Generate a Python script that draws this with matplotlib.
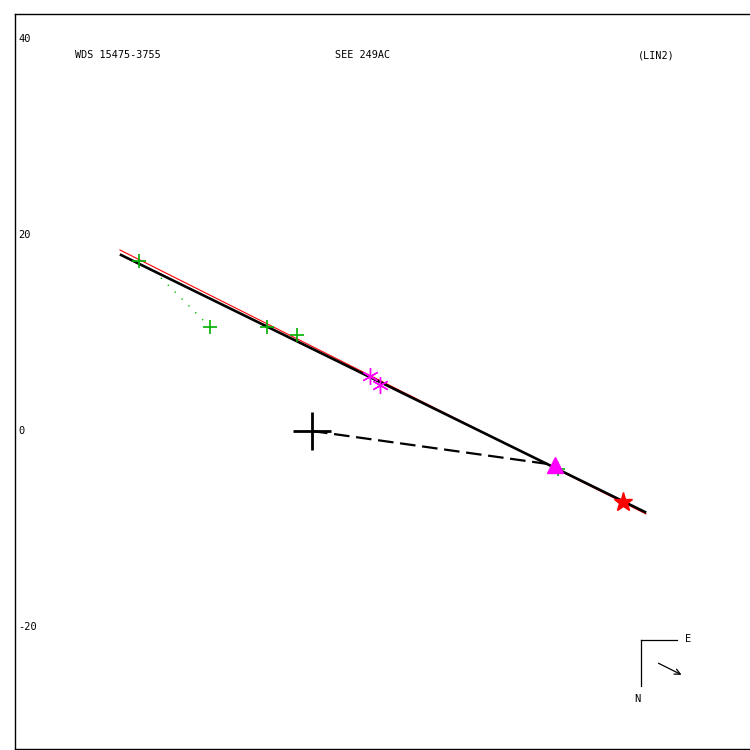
import matplotlib.pyplot as plt
from matplotlib.lines import Line2D

# orbit (black) and linear fit (red), arcsec
orbit_x = [-19.49, 33.98]
orbit_y = [17.96, -8.27]
fit_x = [-19.6, 34.08]
fit_y = [18.47, -8.47]

# observations
green_x = [-17.65, -10.41, -4.59, -1.56, 25.1]
green_y = [17.35, 10.61, 10.61, 9.80, -3.9]
green_oc_x = [-10.41, -16.6]
green_oc_y = [10.61, 16.8]
aster_x = [5.92, 6.94]
aster_y = [5.61, 4.69]
tri_x, tri_y = 24.8, -3.47
star_x, star_y = 31.77, -7.21

yticks = [40, 20, 0, -20]

W = 750.0


def fx(px):
    return px / W


def fy(py):
    return 1 - py / W


fig = plt.figure(figsize=(7.5, 7.5), dpi=100)
ax = fig.add_axes([fx(15), fy(749), 1 - fx(15) + 0.01, fy(14) - fy(749)])
ax.set_xlim(-30.31, 44.69 + 0.01 * W / 9.8)
ax.set_ylim(-32.45, 42.55)
ax.set_xticks([])
ax.set_yticks([])
for s in ax.spines.values():
    s.set_linewidth(1.0)

mono = "DejaVu Sans Mono"
for v in yticks:
    ax.text(-30.0, v, str(v), fontsize=7.5, family=mono, ha="left", va="center")

ax.plot(fit_x, fit_y, color="red", lw=0.8, zorder=2)
ax.plot(orbit_x, orbit_y, color="black", lw=1.9, zorder=3)
ax.plot(green_oc_x, green_oc_y, color="#00c000", lw=1.0, ls=(0, (1, 6)), zorder=2)
ax.plot([0, tri_x], [0, tri_y], color="black", lw=1.6, ls=(0, (7, 3)), zorder=3)
ax.plot(green_x, green_y, ls="none", marker="+", ms=10, mew=1.2, color="#00b000", zorder=4)
ax.plot(aster_x, aster_y, ls="none", marker=(6, 2, 0), ms=12, mew=1.0, color="magenta", zorder=4)
ax.plot(tri_x, tri_y, ls="none", marker="^", ms=12, color="magenta", zorder=5)
ax.plot(star_x, star_y, ls="none", marker="*", ms=14, color="red", zorder=5)
ax.plot(0, 0, ls="none", marker="+", ms=27, mew=2.0, color="black", zorder=6)

fig.text(fx(75), fy(55), "WDS 15475-3755", fontsize=7.3, family=mono, va="center")
fig.text(fx(335), fy(55), "SEE 249AC", fontsize=7.3, family=mono, va="center")
fig.text(fx(638), fy(55), "(LIN2)", fontsize=7.3, family=mono, va="center")

# compass
fig.add_artist(Line2D([fx(640.5), fx(677)], [fy(639.5), fy(639.5)], color="black", lw=0.9))
fig.add_artist(Line2D([fx(640.5), fx(640.5)], [fy(639.5), fy(686)], color="black", lw=0.9))
fig.text(fx(685), fy(639), "E", fontsize=7.5, family=mono, va="center")
fig.text(fx(634), fy(699), "N", fontsize=7.5, family=mono, va="center")
ax.annotate("", xy=(fx(684), fy(676)), xytext=(fx(656), fy(662)),
            xycoords="figure fraction", textcoords="figure fraction",
            arrowprops=dict(arrowstyle="->", lw=0.9, color="black"))

fig.savefig("out.png", dpi=100)
